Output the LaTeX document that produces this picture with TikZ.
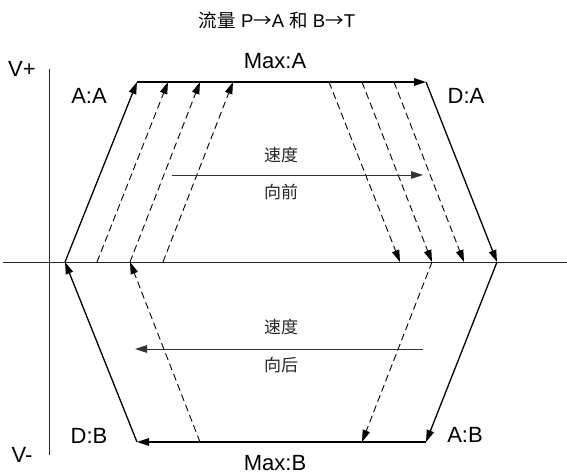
\documentclass[tikz,border=0pt]{standalone}
\usepackage{fontspec}
\setmainfont{Liberation Sans}
\newfontfamily\cjk{Noto Sans CJK SC}
\usetikzlibrary{arrows.meta}
\begin{document}
\begin{tikzpicture}[x=1pt,y=-1pt,
  axisline/.style={line width=0.9pt,black!85},
  mainline/.style={line width=1.3pt,-{Triangle[length=12pt,width=7.5pt]}},
  dashline/.style={line width=0.9pt,dash pattern=on 7pt off 4pt,-{Triangle[length=12pt,width=7.5pt]}},
  midarrow/.style={line width=1pt,black!80,-{Triangle[length=12pt,width=7.5pt]}},
  lbl/.style={font=\fontsize{22}{24}\selectfont,inner sep=0pt},
  cjklbl/.style={font=\cjk\fontsize{17}{18}\selectfont,inner sep=0pt,black!85},
]
\useasboundingbox (0,0) rectangle (567,474);
% axes
\coordinate (axL) at (3,262);
\coordinate (axR) at (567,262);
\coordinate (axT) at (49,69);
\coordinate (axB) at (49,455);
\draw[axisline] (axL) -- (axR);
\draw[axisline] (axT) -- (axB);
% corners
\coordinate (TL) at (137,82);
\coordinate (TR) at (426,82);
\coordinate (BL) at (137,442);
\coordinate (BR) at (426,442);
\coordinate (ML) at (65,262);
\coordinate (MR) at (497,262);
% solid outline
\draw[mainline] (ML) -- (TL);
\draw[mainline] (TL) -- (TR);
\draw[mainline] (TR) -- (MR);
\draw[mainline] (MR) -- (BR);
\draw[mainline] (BR) -- (BL);
\draw[mainline] (BL) -- (ML);
% upper-left dashed (up)
\coordinate (ua1) at (97,262);  \coordinate (ub1) at (168,82);
\coordinate (ua2) at (130,262); \coordinate (ub2) at (200,82);
\coordinate (ua3) at (163,262); \coordinate (ub3) at (233,82);
\draw[dashline] (ua1) -- (ub1);
\draw[dashline] (ua2) -- (ub2);
\draw[dashline] (ua3) -- (ub3);
% upper-right dashed (down)
\coordinate (da1) at (329,82);  \coordinate (db1) at (400,262);
\coordinate (da2) at (362,82);  \coordinate (db2) at (432,262);
\coordinate (da3) at (394,82);  \coordinate (db3) at (464,262);
\draw[dashline] (da1) -- (db1);
\draw[dashline] (da2) -- (db2);
\draw[dashline] (da3) -- (db3);
% lower dashed
\coordinate (la) at (200,442); \coordinate (lb) at (130,262);
\draw[dashline] (la) -- (lb);
\coordinate (ra) at (432,262); \coordinate (rb) at (362,442);
\draw[dashline] (ra) -- (rb);
% middle arrows
\coordinate (fwA) at (172,175); \coordinate (fwB) at (423,175);
\draw[midarrow] (fwA) -- (fwB);
\coordinate (bwA) at (423,349); \coordinate (bwB) at (135,349);
\draw[midarrow] (bwA) -- (bwB);
% labels
\node[font=\fontsize{18.5}{20}\selectfont,inner sep=0pt] (title) at (277,20) {{\cjk 流量} P{\cjk →}A {\cjk 和} B{\cjk →}T};
\node[lbl] (maxA) at (275,61) {Max:A};
\node[lbl] (maxB) at (275,463) {Max:B};
\node[lbl] (vp) at (22,69) {V+};
\node[lbl] (vm) at (22,455) {V-};
\node[lbl] (AA) at (89,96) {A:A};
\node[lbl] (DA) at (466,96) {D:A};
\node[lbl] (DB) at (89,436) {D:B};
\node[lbl] (AB) at (465,435) {A:B};
\node[cjklbl] (sd1) at (281,155) {速度};
\node[cjklbl] (xq) at (281,192) {向前};
\node[cjklbl] (sd2) at (281,327) {速度};
\node[cjklbl] (xh) at (281,365) {向后};
\end{tikzpicture}
\end{document}
